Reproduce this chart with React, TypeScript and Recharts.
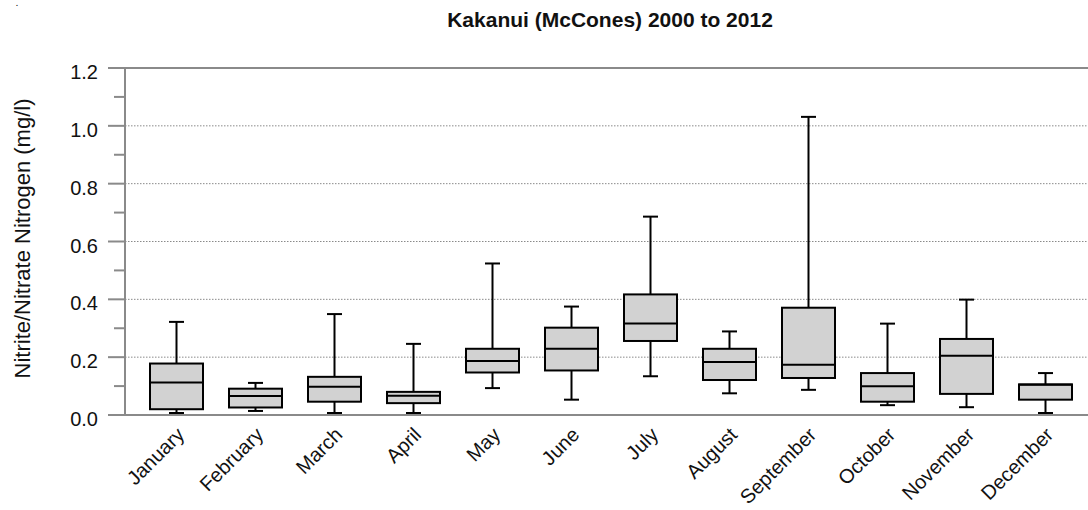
import React from "react";
import {
  ComposedChart,
  Bar,
  XAxis,
  YAxis,
  CartesianGrid,
  ReferenceLine,
  Label,
} from "recharts";

// monthly nitrite/nitrate nitrogen, box plot statistics (mg/l)
const months = [
  "January",
  "February",
  "March",
  "April",
  "May",
  "June",
  "July",
  "August",
  "September",
  "October",
  "November",
  "December",
];
const lowWhisker = [0.007, 0.014, 0.007, 0.007, 0.093, 0.053, 0.134, 0.075, 0.087, 0.034, 0.027, 0.007];
const lowerQuartile = [0.02, 0.026, 0.046, 0.041, 0.147, 0.154, 0.256, 0.121, 0.128, 0.046, 0.073, 0.053];
const medians = [0.112, 0.066, 0.098, 0.067, 0.187, 0.229, 0.316, 0.183, 0.174, 0.099, 0.205, 0.105];
const upperQuartile = [0.178, 0.091, 0.132, 0.08, 0.229, 0.302, 0.417, 0.229, 0.371, 0.145, 0.263, 0.106];
const highWhisker = [0.322, 0.111, 0.349, 0.246, 0.524, 0.375, 0.686, 0.289, 1.031, 0.316, 0.399, 0.145];

const yTicks = [0, 0.1, 0.2, 0.3, 0.4, 0.5, 0.6, 0.7, 0.8, 0.9, 1.0, 1.1, 1.2];
const gridValues = [0.2, 0.4, 0.6, 0.8, 1.0];

const FONT = "'Liberation Sans', Arial, sans-serif";
const AXIS_GREY = "#8a8a8a";

const data = months.map((month, i) => ({
  month,
  low: lowWhisker[i],
  q1: lowerQuartile[i],
  median: medians[i],
  q3: upperQuartile[i],
  high: highWhisker[i],
}));

// draws one box + whiskers; the bar spans low..high so the pixel scale comes from recharts
const BoxShape = (props: any) => {
  const { x, y, width, height, payload } = props;
  const span = payload.high - payload.low;
  const k = span > 0 ? height / span : 0;
  const toY = (v: number) => y + (payload.high - v) * k;
  const cx = x + width / 2;
  const cap = 7.5;
  return (
    <g>
      <line x1={cx} x2={cx} y1={toY(payload.high)} y2={toY(payload.low)} stroke="#000" strokeWidth={2} />
      <line x1={cx - cap} x2={cx + cap} y1={toY(payload.high)} y2={toY(payload.high)} stroke="#000" strokeWidth={2} />
      <line x1={cx - cap} x2={cx + cap} y1={toY(payload.low)} y2={toY(payload.low)} stroke="#000" strokeWidth={2} />
      <rect
        x={x}
        y={toY(payload.q3)}
        width={width}
        height={toY(payload.q1) - toY(payload.q3)}
        fill="#d2d2d2"
        stroke="#000"
        strokeWidth={2}
      />
      <line x1={x} x2={x + width} y1={toY(payload.median)} y2={toY(payload.median)} stroke="#000" strokeWidth={2} />
    </g>
  );
};

const YTick = (props: any) => {
  const { x, y, payload, index } = props;
  const major = index % 2 === 0;
  return (
    <g>
      <line x1={x} x2={x - (major ? 17 : 11)} y1={y} y2={y} stroke={AXIS_GREY} strokeWidth={2} />
      {major && (
        <text x={x - 27} y={y + 11} textAnchor="end" fontSize={20} fontFamily={FONT} fill="#111">
          {Number(payload.value).toFixed(1)}
        </text>
      )}
    </g>
  );
};

const XTick = (props: any) => {
  const { x, y, payload } = props;
  const ax = x + 9;
  const ay = y + 21;
  return (
    <text
      x={ax}
      y={ay}
      transform={`rotate(-45 ${ax} ${ay})`}
      textAnchor="end"
      fontSize={20}
      fontFamily={FONT}
      fill="#111"
    >
      {payload.value}
    </text>
  );
};

const YTitle = (props: any) => {
  const { viewBox } = props;
  const cx = viewBox.x + 22.5;
  const cy = viewBox.y + viewBox.height / 2 - 3;
  return (
    <text
      x={cx}
      y={cy}
      transform={`rotate(-90 ${cx} ${cy})`}
      textAnchor="middle"
      dominantBaseline="central"
      fontSize={22}
      fontFamily={FONT}
      fill="#111"
    >
      Nitrite/Nitrate Nitrogen (mg/l)
    </text>
  );
};

const App: React.FC = () => {
  return (
    <div
      style={{
        position: "absolute",
        left: 0,
        top: 0,
        width: 1088,
        height: 510,
        overflow: "hidden",
        background: "#fff",
      }}
    >
      <div
        style={{
          position: "absolute",
          left: 16,
          top: 0,
          fontFamily: FONT,
          fontSize: 7,
          lineHeight: "8px",
          fontWeight: "bold",
          color: "#111",
        }}
      >
        .
      </div>
      <div
        style={{
          position: "absolute",
          left: 0,
          width: 1220,
          top: 9,
          textAlign: "center",
          fontFamily: FONT,
          fontSize: 21,
          lineHeight: "22px",
          fontWeight: "bold",
          color: "#111",
        }}
      >
        Kakanui (McCones) 2000 to 2012
      </div>
      <ComposedChart
        width={1110}
        height={510}
        data={data}
        margin={{ top: 68, right: 13, bottom: 0, left: 0 }}
        barSize={53}
      >
        <CartesianGrid
          horizontal
          vertical={false}
          horizontalValues={gridValues}
          stroke={AXIS_GREY}
          strokeDasharray="1.5 1.5"
          strokeWidth={1}
        />
        <XAxis
          dataKey="month"
          type="category"
          height={95}
          padding={{ left: 12, right: 12 }}
          axisLine={{ stroke: AXIS_GREY, strokeWidth: 2 }}
          tickLine={false}
          tickSize={0}
          tickMargin={0}
          interval={0}
          tick={<XTick />}
        />
        <YAxis
          width={125}
          domain={[0, 1.2]}
          ticks={yTicks}
          interval={0}
          allowDataOverflow
          axisLine={{ stroke: AXIS_GREY, strokeWidth: 2 }}
          tickLine={false}
          tickSize={0}
          tickMargin={0}
          tick={<YTick />}
          label={<Label content={<YTitle />} />}
        />
        <ReferenceLine y={1.2} stroke={AXIS_GREY} strokeWidth={2} />
        <Bar
          dataKey={(d: any) => [d.low, d.high]}
          shape={<BoxShape />}
          isAnimationActive={false}
        />
      </ComposedChart>
    </div>
  );
};

export default App;
